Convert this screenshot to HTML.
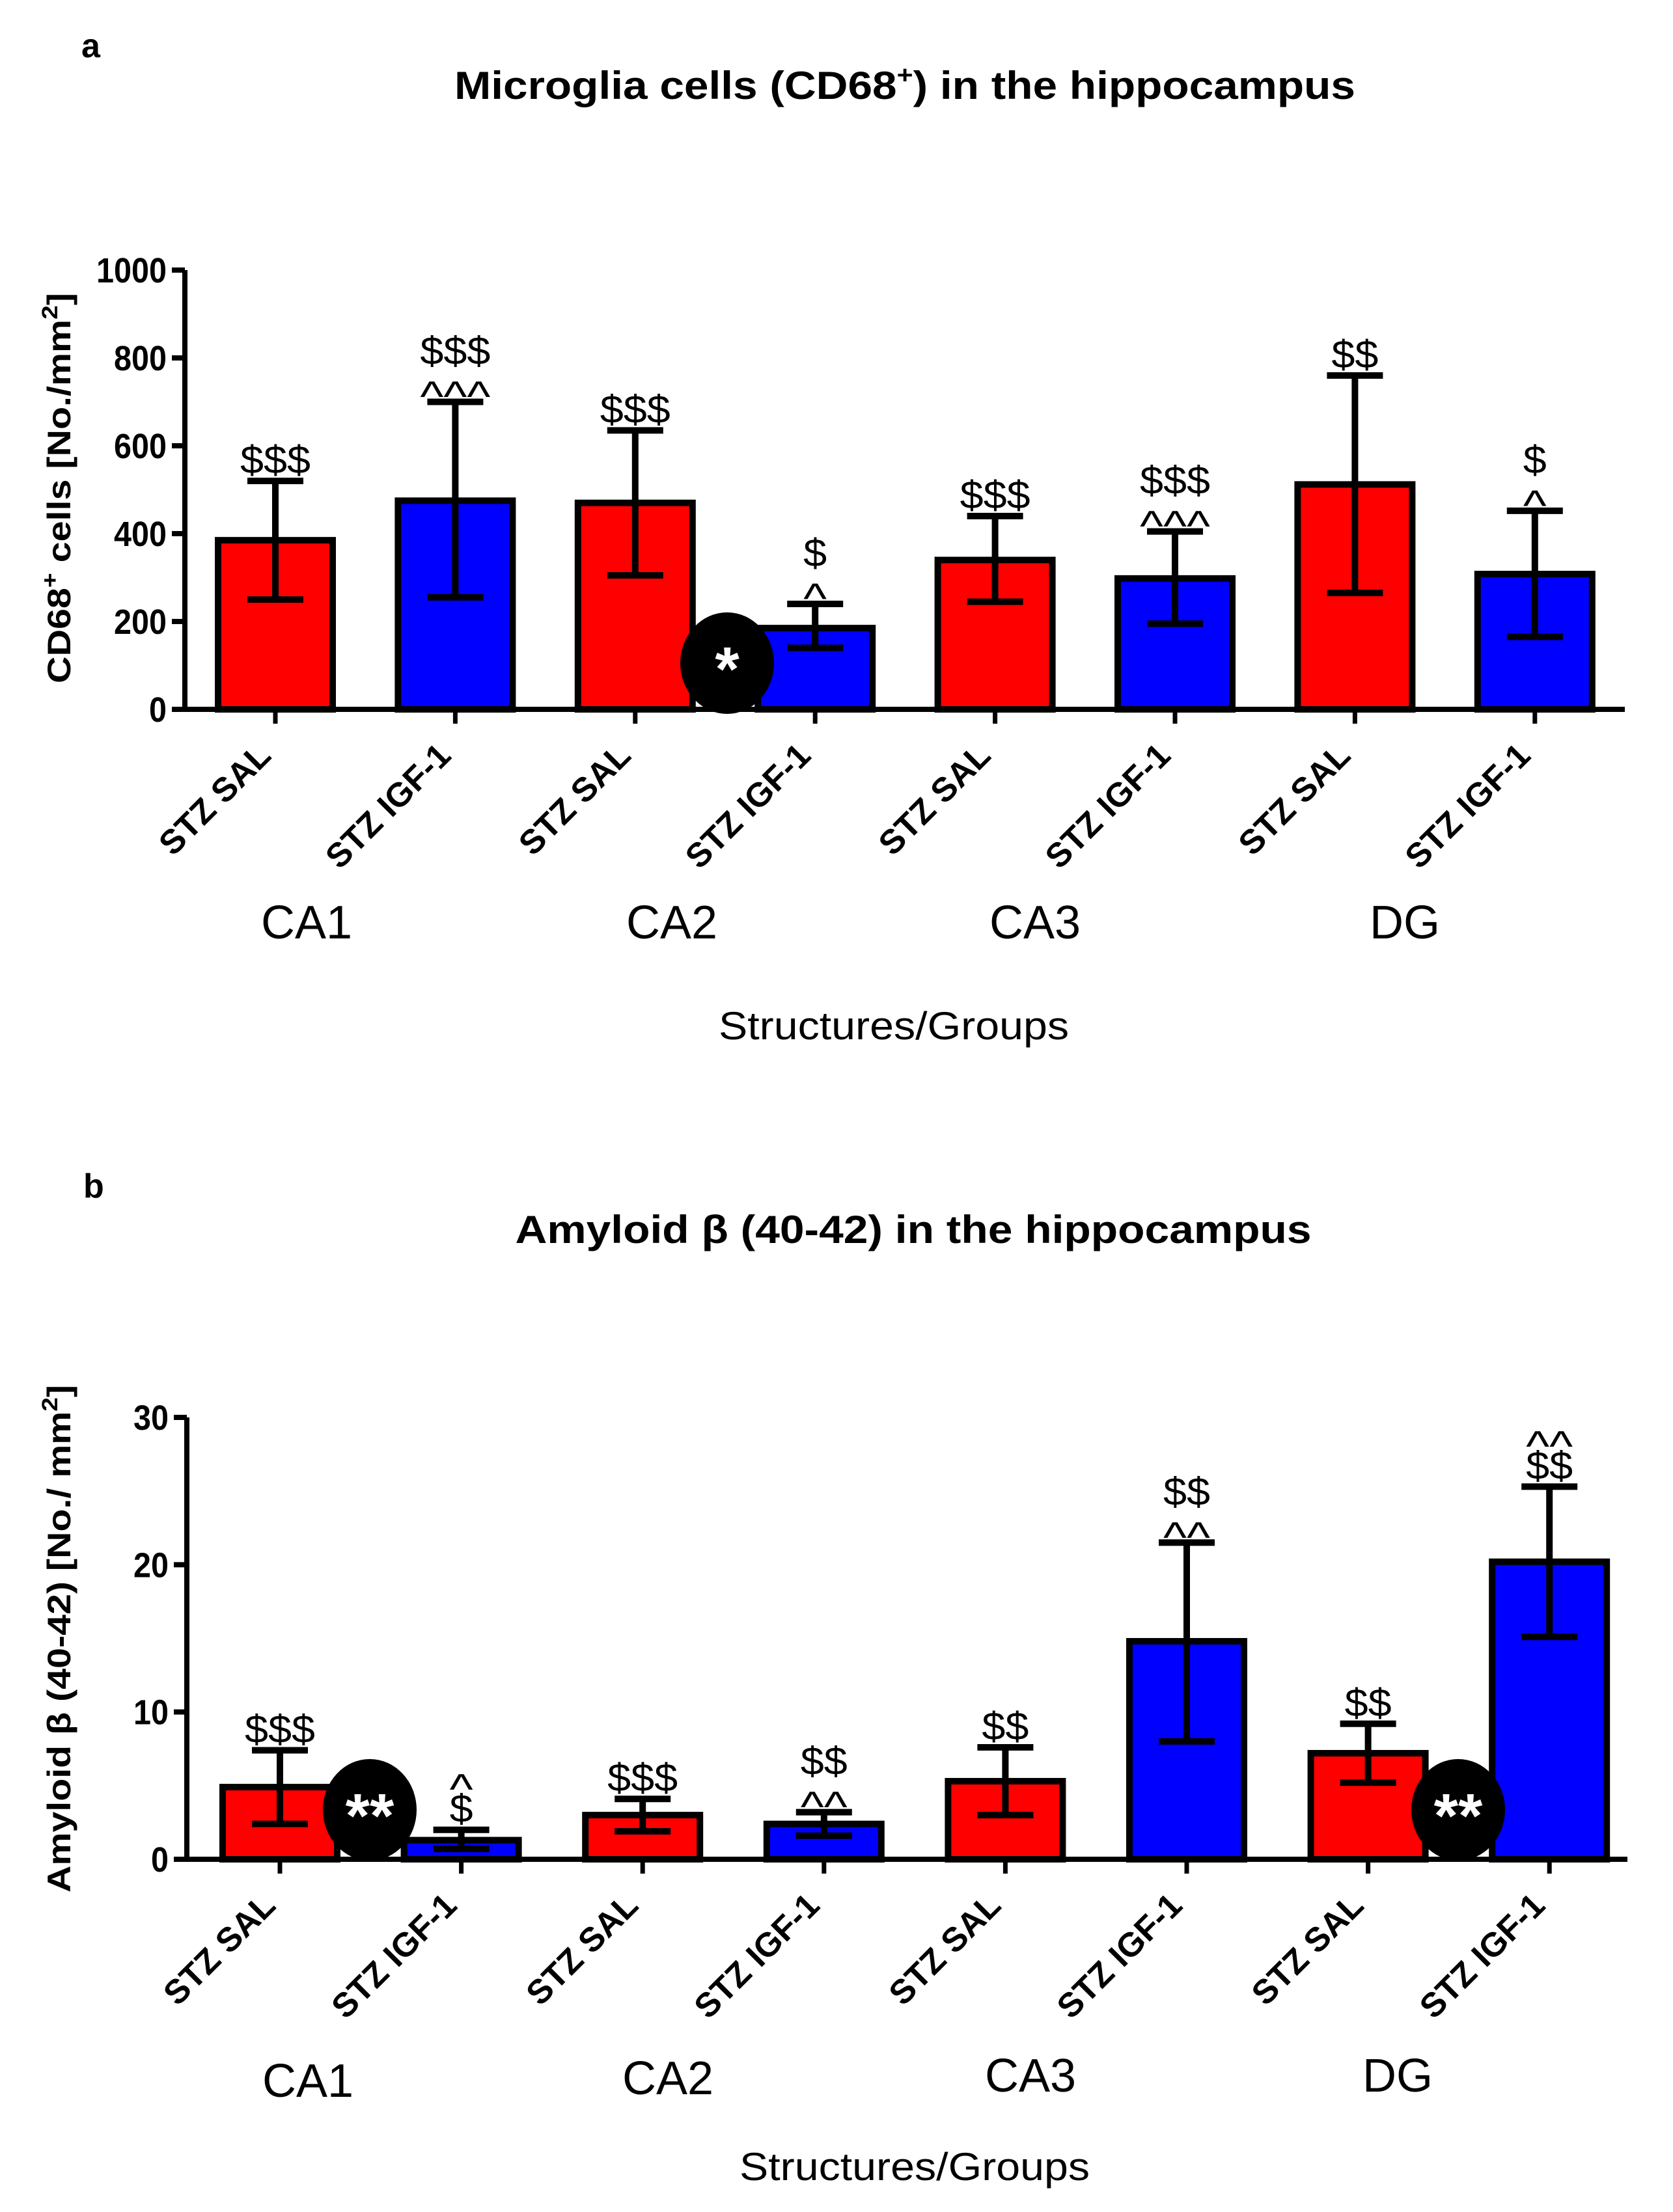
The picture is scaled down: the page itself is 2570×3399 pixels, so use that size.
<!DOCTYPE html>
<html><head><meta charset="utf-8"><style>
html,body{margin:0;padding:0;background:#fff}
svg{display:block}
text{font-family:"Liberation Sans",sans-serif}
</style></head><body>
<svg id="fig" width="2570" height="3399" viewBox="0 0 2570 3399" xmlns="http://www.w3.org/2000/svg">
<rect width="2570" height="3399" fill="#fff"/>
</svg>
<script>
const categories = ["STZ SAL","STZ IGF-1","STZ SAL","STZ IGF-1","STZ SAL","STZ IGF-1","STZ SAL","STZ IGF-1"];
const groups = ["CA1","CA2","CA3","DG"];
const aValues = [385,475,470,185,340,298,512,308];
const aErrLow = [250,255,305,140,245,195,265,165];
const aErrHigh = [520,700,635,240,440,405,760,452];
const aTicks = [0,200,400,600,800,1000];
const aMarks = [["$$$"],["^^^","$$$"],["$$$"],["^","$"],["$$$"],["^^^","$$$"],["$$"],["^","$"]];
const bValues = [4.9,1.3,3.0,2.4,5.3,14.8,7.2,20.2];
const bErrLow = [2.4,0.7,1.9,1.6,3.0,8.0,5.2,15.1];
const bErrHigh = [7.4,2.0,4.1,3.2,7.6,21.5,9.2,25.3];
const bTicks = [0,10,20,30];
const bMarks = [["$$$"],["$","^"],["$$$"],["^^","$$"],["$$"],["^^","$$"],["$$"],["$$","^^"]];
const colors = ["#ff0000","#0000ff"];

const NS="http://www.w3.org/2000/svg";
const svg=document.getElementById('fig');
function mk(tag,attrs,parent,txt){const e=document.createElementNS(NS,tag);for(const k in attrs)e.setAttribute(k,attrs[k]);if(txt!==undefined)e.textContent=txt;(parent||svg).appendChild(e);return e;}

function chart(cfg){
  const g=mk('g',{});
  
  
  const y=v=>cfg.y0-(v-cfg.ymin)/(cfg.ymax-cfg.ymin)*(cfg.y0-cfg.y1);
  const x=i=>cfg.x0+i*cfg.step;
  const pl=mk('text',{x:cfg.letterX,y:cfg.letterY,'font-size':52,'font-weight':'bold'},g,cfg.letter);
  
  
  const t=mk('text',{x:cfg.titleX,y:cfg.titleY,'font-size':60,'font-weight':'bold','text-anchor':'middle',textLength:cfg.titleLen,lengthAdjust:'spacingAndGlyphs'},g);
  
  
  cfg.title(t);
  const yt=mk('text',{x:0,y:0,'font-size':50,'font-weight':'bold','text-anchor':'middle',textLength:cfg.ytLen,lengthAdjust:'spacingAndGlyphs',transform:`translate(${cfg.ytX},${cfg.ytY}) rotate(-90)`},g);
  
  
  cfg.ytitle(yt);
  for(let i=0;i<cfg.values.length;i++){
    const cx=x(i), top=y(cfg.values[i]);
    const r=mk('rect',{x:cx-88,y:top,width:176,height:cfg.y0-top,fill:colors[i%2],stroke:'#000','stroke-width':10},g);
    
    
    const yl=y(cfg.lo[i]),yh=y(cfg.hi[i]);
    const eb=mk('path',{d:`M${cx},${yl}V${yh}M${cx-43},${yh}H${cx+43}M${cx-43},${yl}H${cx+43}`,stroke:'#000','stroke-width':10,fill:'none'},g);
    
    
    let cur=yh-8;
    cfg.marks[i].forEach(m=>{
      let by;
      if(m[0]==='^'){by=cur+22;cur=by-68;}else{by=cur-4;cur=by-50;}
      const s=mk('text',{x:cx,y:by,'font-size':m[0]==='^'?66:60,'text-anchor':'middle',textLength:m.length*36,lengthAdjust:'spacingAndGlyphs'},g,m);
      
      
    });
    mk('line',{x1:cx,y1:cfg.y0,x2:cx,y2:cfg.y0+22,stroke:'#000','stroke-width':7},g);
    const lbl=mk('text',{x:0,y:0,'font-size':52,'font-weight':'bold','text-anchor':'end',transform:`translate(${cx-4},${cfg.y0+74}) rotate(-45)`},g,categories[i]);
    
    
  }
  const ax=mk('path',{d:`M${cfg.axX},${cfg.y1}V${cfg.y0}H${cfg.axEnd}`,stroke:'#000','stroke-width':8,fill:'none'},g);
  
  
  cfg.ticks.forEach(v=>{
    mk('line',{x1:cfg.axX-20,y1:y(v),x2:cfg.axX,y2:y(v),stroke:'#000','stroke-width':8},g);
    const tl=mk('text',{x:cfg.axX-28,y:y(v)+19,'font-size':54,'font-weight':'bold','text-anchor':'end',textLength:String(v).length*27,lengthAdjust:'spacingAndGlyphs'},g,String(v));
    
    
  });
  groups.forEach((gname,k)=>{
    const gl=mk('text',{x:cfg.gx[k],y:cfg.gy[k],'font-size':72,'text-anchor':'middle'},g,gname);
    
    
  });
  const xt=mk('text',{x:cfg.xtX,y:cfg.xtY,'font-size':60,'text-anchor':'middle',textLength:538,lengthAdjust:'spacingAndGlyphs'},g,'Structures/Groups');
  
  
  cfg.stars.forEach(st=>{
    const c=mk('ellipse',{cx:st[0],cy:st[1],rx:72,ry:78,fill:'#000'},g);
    
    
    mk('text',{x:st[0],y:st[1]+42,'font-size':96,'font-weight':'bold','text-anchor':'middle',fill:'#fff'},g,st[2]);
  });
}

chart({name:'chart-a',letter:'a',letterX:125,letterY:88,titleX:1390,titleY:152,titleLen:1384,
  title:t=>{t.appendChild(document.createTextNode('Microglia cells (CD68'));mk('tspan',{dy:-24,'font-size':38},t,'+');mk('tspan',{dy:24},t,') in the hippocampus');},
  ytX:108,ytY:750,ytLen:600,
  ytitle:t=>{t.appendChild(document.createTextNode('CD68'));mk('tspan',{dy:-20,'font-size':34},t,'+');mk('tspan',{dy:20},t,' cells [No./mm');mk('tspan',{dy:-20,'font-size':34},t,'2');mk('tspan',{dy:20},t,']');},
  values:aValues,lo:aErrLow,hi:aErrHigh,marks:aMarks,ticks:aTicks,ymin:0,ymax:1000,y0:1090,y1:415,
  x0:423,step:276.4,axX:284,axEnd:2496,gx:[471,1032,1590,2158],gy:[1442,1442,1442,1442],xtX:1373,xtY:1597,
  stars:[[1117,1019,'*']]});

chart({name:'chart-b',letter:'b',letterX:128,letterY:1840,titleX:1403,titleY:1910,titleLen:1223,
  title:t=>{t.textContent='Amyloid \u03b2 (40-42) in the hippocampus';},
  ytX:108,ytY:2518,ytLen:780,
  ytitle:t=>{t.appendChild(document.createTextNode('Amyloid \u03b2 (40-42) [No./ mm'));mk('tspan',{dy:-20,'font-size':34},t,'2');mk('tspan',{dy:20},t,']');},
  values:bValues,lo:bErrLow,hi:bErrHigh,marks:bMarks,ticks:bTicks,ymin:0,ymax:30,y0:2857,y1:2178,
  x0:430,step:278.6,axX:287,axEnd:2500,gx:[473,1026,1583,2147],gy:[3222,3218,3214,3214],xtX:1405,xtY:3350,
  stars:[[568,2781,'**'],[2240,2781,'**']]});
</script>
</body></html>
